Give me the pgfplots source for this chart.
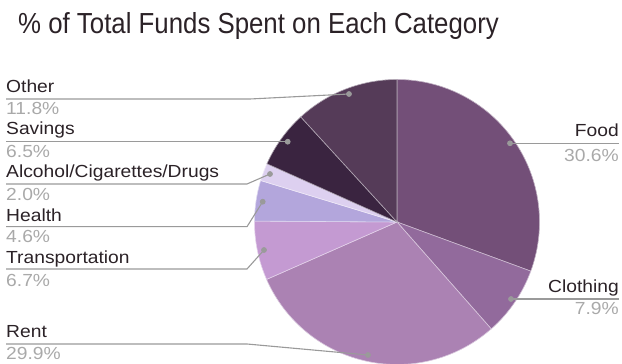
\documentclass[border=0pt]{standalone}
\usepackage{pgfplots}
\pgfplotsset{compat=1.18}
\usepackage{pgfplotstable}
\usepackage{fontspec}
\setmainfont{Liberation Sans}
\newfontfamily\labfont[FakeStretch=1.1]{Liberation Sans}
\newfontfamily\titfont[FakeStretch=0.89]{Liberation Sans}
\definecolor{pie0}{HTML}{734F78}
\definecolor{pie1}{HTML}{926A9C}
\definecolor{pie2}{HTML}{AB82B3}
\definecolor{pie3}{HTML}{C49AD2}
\definecolor{pie4}{HTML}{B3A6DC}
\definecolor{pie5}{HTML}{DDD0F0}
\definecolor{pie6}{HTML}{3A2440}
\definecolor{pie7}{HTML}{553B58}
\definecolor{namecol}{HTML}{2B2227}
\definecolor{valcol}{HTML}{A9A9A9}
\definecolor{leadcol}{HTML}{9A9A9A}
\pgfplotstableread{
name value
Food 30.6
Clothing 7.9
Rent 29.9
Transportation 6.7
Health 4.6
Alcohol 2.0
Savings 6.5
Other 11.8
}\piedata
\begin{document}%
\xdef\cum{90}%
\foreach \i in {0,...,7}{%
  \pgfplotstablegetelem{\i}{value}\of\piedata%
  \pgfmathsetmacro\stop{\cum-3.6*\pgfplotsretval}%
  \expandafter\xdef\csname sA\i\endcsname{\cum}%
  \expandafter\xdef\csname sB\i\endcsname{\stop}%
  \xdef\cum{\stop}%
}%
\begin{tikzpicture}
\begin{axis}[name=ax, hide axis, x=1pt, y=1pt, xmin=0, xmax=622, ymin=0, ymax=364,
  enlargelimits=false, clip=true]
\pgfplotsinvokeforeach{0,...,7}{
  \fill[pie#1, draw=white!55!pie#1, line width=0.6pt] (axis cs:397,142) -- ++(\csname sA#1\endcsname:142.5pt)
     arc[start angle=\csname sA#1\endcsname, end angle=\csname sB#1\endcsname, radius=142.5pt] -- cycle;
}
% leader lines
\addplot[leadcol, line width=1.1pt, mark=*, mark size=2.3pt, mark indices={3}, mark options={fill=leadcol, draw=leadcol}] coordinates {(6,265) (250,265) (349,270)};
\addplot[leadcol, line width=1.1pt, mark=*, mark size=2.3pt, mark indices={2}, mark options={fill=leadcol, draw=leadcol}] coordinates {(6,222.3) (287.7,222.3)};
\addplot[leadcol, line width=1.1pt, mark=*, mark size=2.3pt, mark indices={3}, mark options={fill=leadcol, draw=leadcol}] coordinates {(6,180) (247,180) (270,190)};
\addplot[leadcol, line width=1.1pt, mark=*, mark size=2.3pt, mark indices={3}, mark options={fill=leadcol, draw=leadcol}] coordinates {(6,137.3) (247,137.3) (262.7,162.3)};
\addplot[leadcol, line width=1.1pt, mark=*, mark size=2.3pt, mark indices={3}, mark options={fill=leadcol, draw=leadcol}] coordinates {(6,95) (247,95) (264,114)};
\addplot[leadcol, line width=1.1pt, mark=*, mark size=2.3pt, mark indices={3}, mark options={fill=leadcol, draw=leadcol}] coordinates {(6,20) (247,20) (368,9)};
\addplot[leadcol, line width=1.1pt, mark=*, mark size=2.3pt, mark indices={1}, mark options={fill=leadcol, draw=leadcol}] coordinates {(510,220.7) (619,220.7)};
\addplot[leadcol, line width=1.1pt, mark=*, mark size=2.3pt, mark indices={1}, mark options={fill=leadcol, draw=leadcol}] coordinates {(511,65) (619,65)};
% title
\node[anchor=base west, inner sep=0pt, text=namecol, font=\titfont\fontsize{29}{32}\selectfont] at (axis cs:18,330.5) {\% of Total Funds Spent on Each Category};
% labels
\tikzset{nm/.style={inner sep=0pt, text=namecol, font=\labfont\fontsize{17.5}{20}\selectfont},
         vl/.style={inner sep=0pt, text=valcol, font=\labfont\fontsize{17.5}{20}\selectfont}}
\node[nm, anchor=base west] at (axis cs:6,271) {Other};
\node[vl, anchor=base west] at (axis cs:6,249) {11.8\%};
\node[nm, anchor=base west] at (axis cs:6,229) {Savings};
\node[vl, anchor=base west] at (axis cs:6,206) {6.5\%};
\node[nm, anchor=base west] at (axis cs:6,186) {Alcohol/Cigarettes/Drugs};
\node[vl, anchor=base west] at (axis cs:6,163.3) {2.0\%};
\node[nm, anchor=base west] at (axis cs:6,142.3) {Health};
\node[vl, anchor=base west] at (axis cs:6,121) {4.6\%};
\node[nm, anchor=base west] at (axis cs:6,100) {Transportation};
\node[vl, anchor=base west] at (axis cs:6,77.3) {6.7\%};
\node[nm, anchor=base west] at (axis cs:6,26) {Rent};
\node[vl, anchor=base west] at (axis cs:6,4) {29.9\%};
\node[nm, anchor=base east] at (axis cs:619,227) {Food};
\node[vl, anchor=base east] at (axis cs:619,202.3) {30.6\%};
\node[nm, anchor=base east] at (axis cs:619,71) {Clothing};
\node[vl, anchor=base east] at (axis cs:619,49) {7.9\%};
\end{axis}
\pgfresetboundingbox
\path (ax.south west) rectangle (ax.north east);
\end{tikzpicture}
\end{document}
